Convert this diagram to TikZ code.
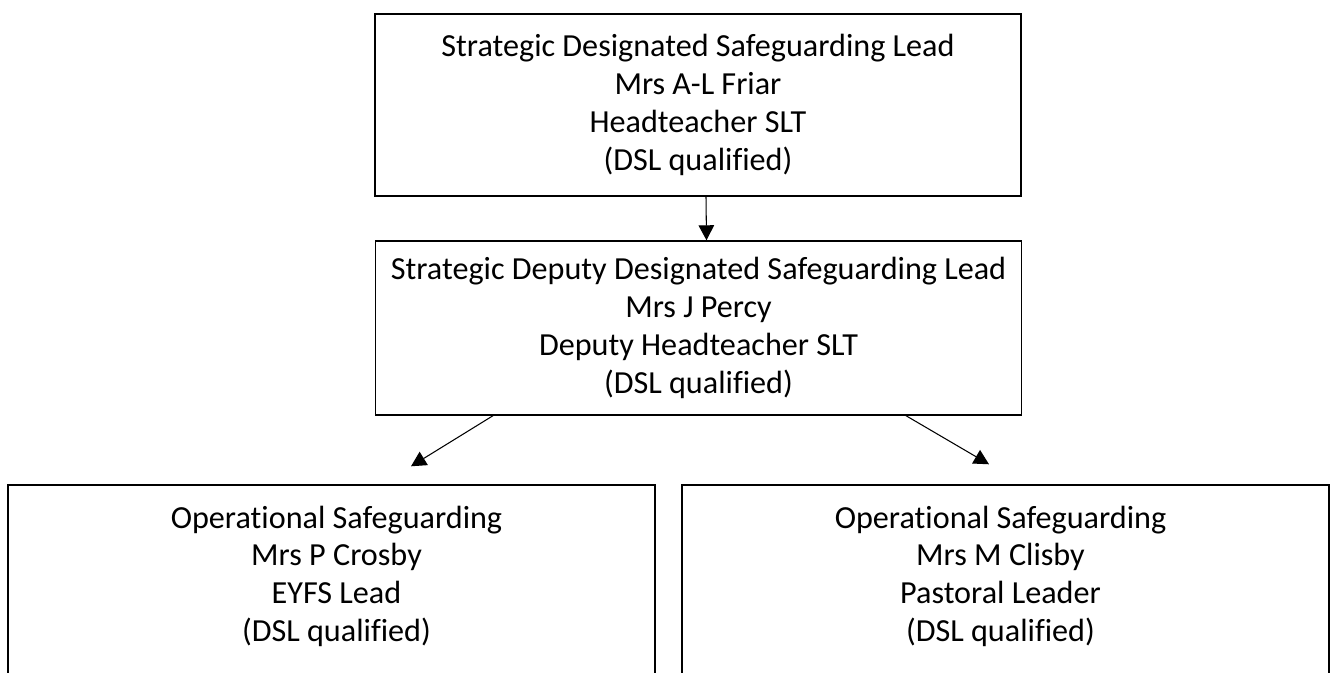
\documentclass[tikz,border=0pt]{standalone}
\usepackage{tikz}
\usepackage{xcolor}
\usepackage{fontspec}
\setmainfont{Carlito}[Ligatures={NoCommon}]
\usetikzlibrary{arrows.meta, positioning, calc}
\definecolor{ChartBlack}{HTML}{000000}
\definecolor{ChartWhite}{HTML}{ffffff}
\tikzset{
    % Box styles - plain frames
    leadbox/.style={
        rectangle,
        draw=ChartBlack,
        fill=ChartWhite,
        line width=0.8pt,
        minimum width=12.92cm,
        minimum height=3.64cm,
        align=center,
        font=\fontsize{18.3}{21.5}\selectfont
    },
    opsbox/.style={
        rectangle,
        draw=ChartBlack,
        fill=ChartWhite,
        line width=0.8pt,
        minimum width=12.94cm,
        minimum height=4.3cm
    },
    boxtext/.style={
        align=center,
        font=\fontsize{18.3}{21.5}\selectfont
    },
    % Arrow style
    arrow/.style={
        -{Triangle[length=0.3cm, width=0.31cm]},
        line width=0.6pt,
        draw=ChartBlack
    }
}
\begin{document}
\begin{tikzpicture}
    \useasboundingbox (0,0) rectangle (26.6,-13.46);
    \clip (0,0) rectangle (26.6,-13.46);

    % Strategic leads
    \node[leadbox] (friar) at (13.96,-2.1) {Strategic Designated Safeguarding Lead\\Mrs A-L Friar\\Headteacher SLT\\(DSL qualified)};
    \node[leadbox, minimum height=3.48cm] (percy) at (13.97,-6.56) {Strategic Deputy Designated Safeguarding Lead\\Mrs J Percy\\Deputy Headteacher SLT\\(DSL qualified)};

    % Operational safeguarding
    \node[opsbox] (crosby) at (6.63,-11.85) {};
    \node[opsbox] (clisby) at (20.11,-11.85) {};
    \node[boxtext] (crosbytext) at ($(crosby.north)+(0.1,-1.84)$) {Operational Safeguarding\\Mrs P Crosby\\EYFS Lead\\(DSL qualified)};
    \node[boxtext] (clisbytext) at ($(clisby.north)+(-0.1,-1.84)$) {Operational Safeguarding\\Mrs M Clisby\\Pastoral Leader\\(DSL qualified)};

    % Arrow ends
    \coordinate (crosbytip) at ($(crosby.north)+(1.59,0.36)$);
    \coordinate (clisbytip) at ($(clisby.north)+(-0.33,0.4)$);

    % Arrows
    \draw[arrow] ([xshift=0.16cm]friar.south) -- ([xshift=0.16cm]percy.north);
    \draw[arrow] ([xshift=-4.11cm]percy.south) -- (crosbytip);
    \draw[arrow] ([xshift=4.15cm]percy.south) -- (clisbytip);
\end{tikzpicture}
\end{document}
